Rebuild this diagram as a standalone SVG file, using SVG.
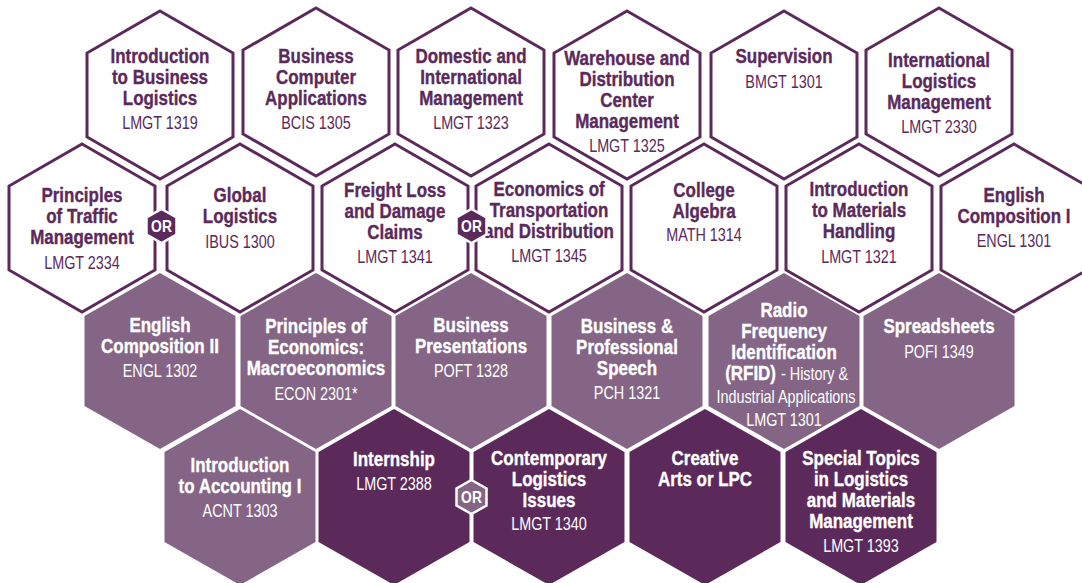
<svg xmlns="http://www.w3.org/2000/svg" xmlns:xlink="http://www.w3.org/1999/xlink" width="1082" height="583" viewBox="0 0 1082 583">
<defs>
<style>
.ho{fill:#ffffff;stroke:#5b2a5b;stroke-width:3;stroke-linejoin:miter}
.hl{fill:#856586;stroke:none}
.hd{fill:#5b2a5b;stroke:none}
text{font-family:"Liberation Sans",Arial,sans-serif;text-anchor:middle;transform-box:fill-box;transform-origin:center}
.t{font-size:19.5px;font-weight:bold;transform:scaleX(0.87);stroke-width:0.35}
.c{font-size:18px;font-weight:normal;transform:scaleX(0.8)}
.ae{text-anchor:end;transform-origin:right center}
.as{text-anchor:start;transform-origin:left center}
.dk{fill:#5b2a5b}
.t.dk{stroke:#5b2a5b}
.wt{fill:#ffffff}
.t.wt{stroke:#ffffff}
.or{font-size:16.5px;font-weight:bold;fill:#ffffff;transform:scaleX(0.84)}
.bd{stroke:#ffffff;stroke-width:2.5}
</style>
<polygon id="hexO" points="0,-84 73,-42 73,42 0,84 -73,42 -73,-42"/>
<polygon id="hexF" points="0,-88 75.5,-45 75.5,45 0,88 -75.5,45 -75.5,-45"/>
<polygon id="hexB" points="0,-17 15,-8.5 15,8.5 0,17 -15,8.5 -15,-8.5"/>
</defs>
<rect width="1082" height="583" fill="#ffffff"/>

<g id="n1"><use xlink:href="#hexO" class="ho" x="160" y="95"/>
<text class="t dk" x="160" y="63">Introduction</text><text class="t dk" x="160" y="84">to Business</text><text class="t dk" x="160" y="105">Logistics</text><text class="c dk" x="160" y="129">LMGT 1319</text></g>
<g id="n2"><use xlink:href="#hexO" class="ho" x="316" y="92"/>
<text class="t dk" x="316" y="63">Business</text><text class="t dk" x="316" y="84">Computer</text><text class="t dk" x="316" y="105">Applications</text><text class="c dk" x="316" y="129">BCIS 1305</text></g>
<g id="n3"><use xlink:href="#hexO" class="ho" x="471" y="92"/>
<text class="t dk" x="471" y="63">Domestic and</text><text class="t dk" x="471" y="84">International</text><text class="t dk" x="471" y="105">Management</text><text class="c dk" x="471" y="129">LMGT 1323</text></g>
<g id="n4"><use xlink:href="#hexO" class="ho" x="627" y="95"/>
<text class="t dk" x="627" y="65">Warehouse and</text><text class="t dk" x="627" y="86">Distribution</text><text class="t dk" x="627" y="107">Center</text><text class="t dk" x="627" y="128">Management</text><text class="c dk" x="627" y="152">LMGT 1325</text></g>
<g id="n5"><use xlink:href="#hexO" class="ho" x="784" y="95"/>
<text class="t dk" x="784" y="63">Supervision</text><text class="c dk" x="784" y="88">BMGT 1301</text></g>
<g id="n6"><use xlink:href="#hexO" class="ho" x="939" y="92"/>
<text class="t dk" x="939" y="67">International</text><text class="t dk" x="939" y="88">Logistics</text><text class="t dk" x="939" y="109">Management</text><text class="c dk" x="939" y="133">LMGT 2330</text></g>

<g id="n7"><use xlink:href="#hexO" class="ho" x="82" y="228"/>
<text class="t dk" x="82" y="202">Principles</text><text class="t dk" x="82" y="223">of Traffic</text><text class="t dk" x="82" y="244">Management</text><text class="c dk" x="82" y="269">LMGT 2334</text></g>
<g id="n8"><use xlink:href="#hexO" class="ho" x="240" y="228"/>
<text class="t dk" x="240" y="202">Global</text><text class="t dk" x="240" y="223">Logistics</text><text class="c dk" x="240" y="248">IBUS 1300</text></g>
<g id="n9"><use xlink:href="#hexO" class="ho" x="395" y="228"/>
<text class="t dk" x="395" y="197">Freight Loss</text><text class="t dk" x="395" y="218">and Damage</text><text class="t dk" x="395" y="239">Claims</text><text class="c dk" x="395" y="263">LMGT 1341</text></g>
<g id="n10"><use xlink:href="#hexO" class="ho" x="549" y="228"/>
<text class="t dk" x="549" y="196">Economics of</text><text class="t dk" x="549" y="217">Transportation</text><text class="t dk" x="549" y="238">and Distribution</text><text class="c dk" x="549" y="262">LMGT 1345</text></g>
<g id="n11"><use xlink:href="#hexO" class="ho" x="704" y="228"/>
<text class="t dk" x="704" y="197">College</text><text class="t dk" x="704" y="218">Algebra</text><text class="c dk" x="704" y="241">MATH 1314</text></g>
<g id="n12"><use xlink:href="#hexO" class="ho" x="859" y="228"/>
<text class="t dk" x="859" y="196">Introduction</text><text class="t dk" x="859" y="217">to Materials</text><text class="t dk" x="859" y="238">Handling</text><text class="c dk" x="859" y="263">LMGT 1321</text></g>
<g id="n13"><use xlink:href="#hexO" class="ho" x="1014" y="228"/>
<text class="t dk" x="1014" y="202">English</text><text class="t dk" x="1014" y="223">Composition I</text><text class="c dk" x="1014" y="247">ENGL 1301</text></g>

<g id="n14"><use xlink:href="#hexF" class="hl" x="160" y="361"/>
<text class="t wt" x="160" y="332">English</text><text class="t wt" x="160" y="353">Composition II</text><text class="c wt" x="160" y="377">ENGL 1302</text></g>
<g id="n15"><use xlink:href="#hexF" class="hl" x="316" y="361"/>
<text class="t wt" x="316" y="333">Principles of</text><text class="t wt" x="316" y="354">Economics:</text><text class="t wt" x="316" y="375">Macroeconomics</text><text class="c wt" x="316" y="400">ECON 2301*</text></g>
<g id="n16"><use xlink:href="#hexF" class="hl" x="471" y="361"/>
<text class="t wt" x="471" y="332">Business</text><text class="t wt" x="471" y="353">Presentations</text><text class="c wt" x="471" y="377">POFT 1328</text></g>
<g id="n17"><use xlink:href="#hexF" class="hl" x="627" y="361"/>
<text class="t wt" x="627" y="333">Business &amp;</text><text class="t wt" x="627" y="354">Professional</text><text class="t wt" x="627" y="375">Speech</text><text class="c wt" x="627" y="399">PCH 1321</text></g>
<g id="n18"><use xlink:href="#hexF" class="hl" x="784" y="361"/>
<text class="t wt" x="784" y="317">Radio</text><text class="t wt" x="784" y="338">Frequency</text><text class="t wt" x="784" y="359">Identification</text><text class="t wt ae" x="776" y="380">(RFID)</text><text class="c wt as" x="781" y="380">- History &amp;</text><text class="c wt" x="786" y="403">Industrial Applications</text><text class="c wt" x="784" y="426">LMGT 1301</text></g>
<g id="n19"><use xlink:href="#hexF" class="hl" x="939" y="361"/>
<text class="t wt" x="939" y="333">Spreadsheets</text><text class="c wt" x="939" y="358">POFI 1349</text></g>

<g id="n20"><use xlink:href="#hexF" class="hl" x="240" y="497"/>
<text class="t wt" x="240" y="472">Introduction</text><text class="t wt" x="240" y="493">to Accounting I</text><text class="c wt" x="240" y="517">ACNT 1303</text></g>
<g id="n21"><use xlink:href="#hexF" class="hd" x="394" y="497"/>
<text class="t wt" x="394" y="466">Internship</text><text class="c wt" x="394" y="490">LMGT 2388</text></g>
<g id="n22"><use xlink:href="#hexF" class="hd" x="549" y="497"/>
<text class="t wt" x="549" y="465">Contemporary</text><text class="t wt" x="549" y="486">Logistics</text><text class="t wt" x="549" y="507">Issues</text><text class="c wt" x="549" y="530">LMGT 1340</text></g>
<g id="n23"><use xlink:href="#hexF" class="hd" x="705" y="497"/>
<text class="t wt" x="705" y="465">Creative</text><text class="t wt" x="705" y="486">Arts or LPC</text></g>
<g id="n24"><use xlink:href="#hexF" class="hd" x="861" y="497"/>
<text class="t wt" x="861" y="465">Special Topics</text><text class="t wt" x="861" y="486">in Logistics</text><text class="t wt" x="861" y="507">and Materials</text><text class="t wt" x="861" y="528">Management</text><text class="c wt" x="861" y="552">LMGT 1393</text></g>

<g id="connectors"></g>

<g id="or1"><use xlink:href="#hexB" class="hd bd" x="161.5" y="226"/><text class="or" x="161.5" y="232">OR</text></g>
<g id="or2"><use xlink:href="#hexB" class="hd bd" x="471.5" y="226"/><text class="or" x="471.5" y="232">OR</text></g>
<g id="or3"><use xlink:href="#hexB" class="hl bd" x="471.5" y="497"/><text class="or" x="471.5" y="503">OR</text></g>
</svg>
